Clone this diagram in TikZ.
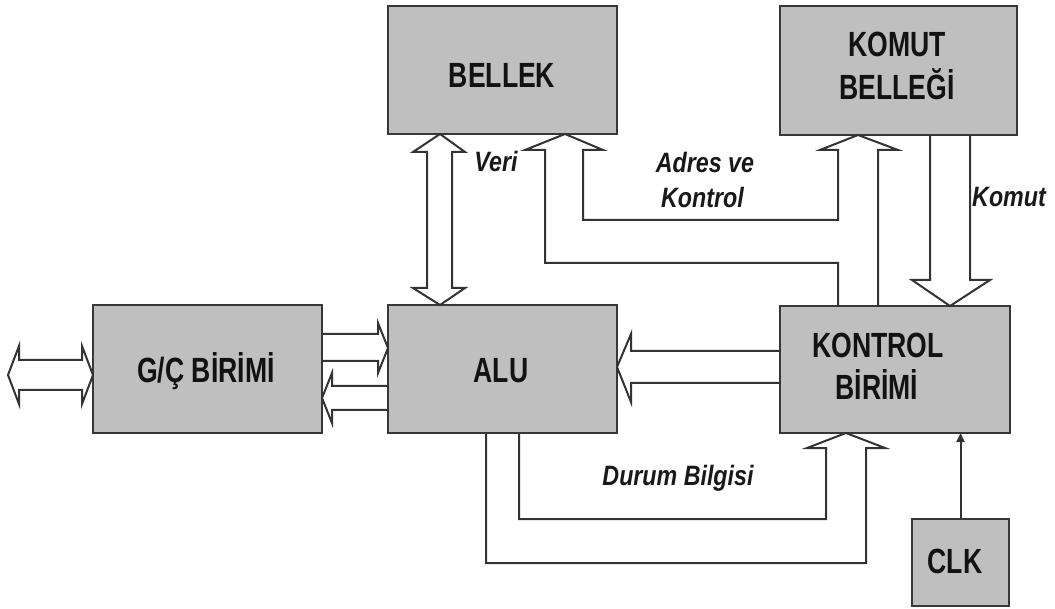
\documentclass[tikz,border=0pt]{standalone}
\usepackage{graphicx}
\usepackage{fontspec}
\setmainfont{Liberation Sans}
\usetikzlibrary{arrows.meta}
% horizontally condensed text
\newcommand\narrowtxt[2]{\scalebox{#1}[1]{#2}}
\tikzset{
  blk/.style={rectangle, draw=black!78, line width=2.5pt, fill=black!25,
    inner sep=0pt, outer sep=0pt},
  boxtxt/.style={font=\fontsize{35}{40}\selectfont\bfseries, text=black!93,
    inner sep=0pt, anchor=base},
  lbl/.style={font=\fontsize{28}{32}\selectfont\bfseries\itshape, text=black!90,
    inner sep=0pt, anchor=base},
  bus/.style={draw=black!80, line width=2pt},
}
\begin{document}
\begin{tikzpicture}[x=1pt,y=-1pt]
\useasboundingbox (0,0) rectangle (1055,609);

% blocks
\node[blk, minimum width=229pt, minimum height=128pt] (bellek) at (502.5,70) {};
\node[blk, minimum width=237pt, minimum height=129pt] (komut) at (898.5,70.5) {};
\node[blk, minimum width=229pt, minimum height=128pt] (gc) at (207.5,369) {};
\node[blk, minimum width=229pt, minimum height=128pt] (alu) at (502.5,369) {};
\node[blk, minimum width=230pt, minimum height=127pt] (kontrol) at (895,369.5) {};
\node[blk, minimum width=97pt, minimum height=87pt] (clk) at (960.5,562.5) {};

% block titles
\node[boxtxt] (bellekT) at (502,88) {\narrowtxt{0.76}{BELLEK}};
\node[boxtxt] (komutT1) at (897,57) {\narrowtxt{0.76}{KOMUT}};
\node[boxtxt] (komutT2) at (897,100) {\narrowtxt{0.76}{BELLEĞİ}};
\node[boxtxt] (gcT) at (206,383) {\narrowtxt{0.76}{G/Ç BİRİMİ}};
\node[boxtxt] (aluT) at (501,383) {\narrowtxt{0.76}{ALU}};
\node[boxtxt] (kontrolT1) at (878,358) {\narrowtxt{0.76}{KONTROL}};
\node[boxtxt] (kontrolT2) at (877,400) {\narrowtxt{0.76}{BİRİMİ}};
\node[boxtxt] (clkT) at (955,573) {\narrowtxt{0.76}{CLK}};

% data bus between memory and ALU
\draw[bus] ([xshift=-62.5pt]bellek.south) -- (465,152) -- (452,152) -- (452,288)
  -- (465,288) -- ([xshift=-62.5pt]alu.north) -- (413,288) -- (427,288)
  -- (427,152) -- (413,152) -- cycle;

% address and control bus
\draw[bus] ([xshift=-57pt]kontrol.north) -- (838,263) -- (545,263) -- (545,150)
  -- (525,150) -- ([xshift=62.5pt]bellek.south) -- (603,150) -- (583,150)
  -- (583,220) -- (838,220) -- (838,150) -- (820,150)
  -- ([xshift=-40.5pt]komut.south) -- (898,150) -- (878,150)
  -- ([xshift=-17pt]kontrol.north);

% instruction bus
\draw[bus] ([xshift=31.5pt]komut.south) -- (930,280) -- (912,280)
  -- ([xshift=55pt]kontrol.north) -- (990,280) -- (970,280)
  -- ([xshift=71.5pt]komut.south);

% I/O <-> ALU
\draw[bus] ([yshift=35pt]gc.east) -- (378,334) -- (378,323)
  -- ([yshift=21pt]alu.west) -- (378,373) -- (378,361) -- ([yshift=8pt]gc.east);
\draw[bus] ([yshift=-17pt]alu.west) -- (332,386) -- (332,373)
  -- ([yshift=-29pt]gc.east) -- (332,423) -- (332,410) -- ([yshift=-41pt]alu.west);

% control unit -> ALU
\draw[bus] ([yshift=18.5pt]kontrol.west) -- (631,351) -- (631,334)
  -- ([yshift=2pt]alu.east) -- (631,402) -- (631,383) -- ([yshift=-13.5pt]kontrol.west);

% external I/O port
\coordinate (ioL) at (8,375);
\draw[bus] ([yshift=-6pt]gc.west) -- (82,346) -- (82,360) -- (19,360) -- (19,346)
  -- (ioL) -- (19,404) -- (19,390) -- (82,390) -- (82,404) -- cycle;

% status bus
\draw[bus] ([xshift=-16.5pt]alu.south) -- (486,563) -- (866,563) -- (866,448)
  -- (885,448) -- ([xshift=-49pt]kontrol.south) -- (807,448) -- (826,448)
  -- (826,519) -- (519,519) -- ([xshift=16.5pt]alu.south);

% clock
\draw[draw=black!80, line width=2pt, -{Triangle[length=9pt,width=8pt]}]
  (clk.north) -- (clk.north |- kontrol.south);

% bus labels
\node[lbl] (veriL) at (496,172) {\narrowtxt{0.83}{Veri}};
\node[lbl] (adresL1) at (705,173) {\narrowtxt{0.83}{Adres ve}};
\node[lbl] (adresL2) at (702.5,208) {\narrowtxt{0.83}{Kontrol}};
\node[lbl] (komutL) at (1009,207) {\narrowtxt{0.83}{Komut}};
\node[lbl] (durumL) at (678,485) {\narrowtxt{0.83}{Durum Bilgisi}};
\end{tikzpicture}
\end{document}
